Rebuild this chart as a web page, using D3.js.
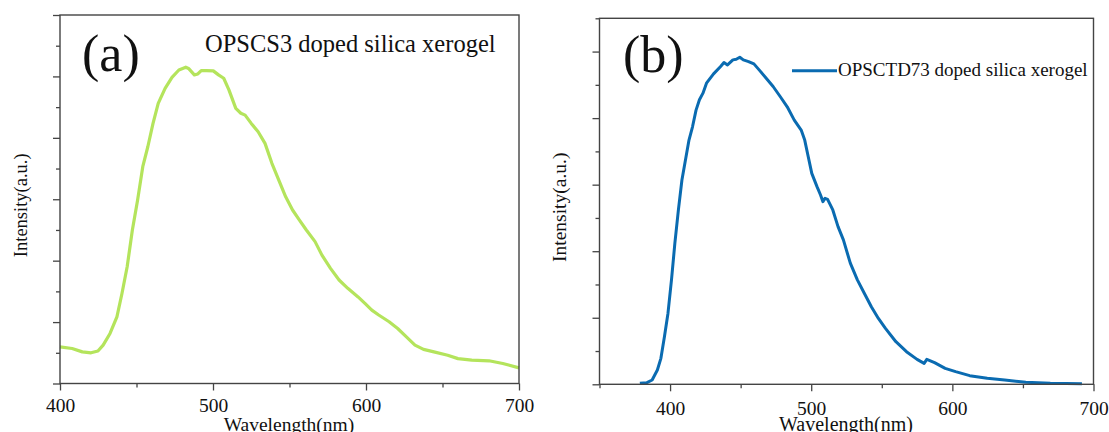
<!DOCTYPE html>
<html>
<head>
<meta charset="utf-8">
<script src="https://cdn.jsdelivr.net/npm/d3@7"></script>
<style>
  html, body { margin: 0; padding: 0; background: #fff; }
  svg { display: block; }
  text { font-family: "Liberation Serif", "Times New Roman", serif; fill: #111; }
</style>
</head>
<body>
<svg id="chart" width="1109" height="432"></svg>
<script>
// Photoluminescence spectra of two doped silica xerogels

// Panel (a): OPSCS3 doped silica xerogel
const wavelengthA = [400, 407.9, 414.6, 420.3, 424.8, 428.2, 432.7, 437.2, 440.5, 443.9, 447.3, 450.7,
  454.1, 457.4, 460.8, 464.2, 468.7, 473.2, 477.7, 482.2, 484, 487.8, 490.1, 492.3, 495.7, 500.2,
  503.6, 507, 510.4, 514.9, 518.2, 521, 525, 529.5, 534, 538.5, 543, 547.5, 552, 556.5, 561, 566.7,
  571.2, 576.8, 582.4, 588.1, 594.8, 599.3, 603.8, 608.3, 615.1, 620.7, 626.4, 632, 637.6, 644.4,
  653.4, 660.1, 669.1, 680.4, 689.4, 700];
const intensityA = [1.19, 1.14, 1.03, 1.0, 1.06, 1.25, 1.63, 2.17, 2.93, 3.80, 5.0, 5.97,
  7.06, 7.71, 8.47, 9.12, 9.61, 9.97, 10.21, 10.30, 10.26, 10.05, 10.08, 10.19, 10.19, 10.18,
  10.05, 9.94, 9.56, 8.96, 8.80, 8.74, 8.47, 8.20, 7.82, 7.17, 6.62, 6.08, 5.65, 5.32, 5.0, 4.62,
  4.18, 3.75, 3.37, 3.10, 2.82, 2.61, 2.39, 2.23, 2.01, 1.79, 1.52, 1.25, 1.11, 1.03,
  0.92, 0.81, 0.76, 0.74, 0.65, 0.51];

// Panel (b): OPSCTD73 doped silica xerogel
const wavelengthB = [378.6, 383.6, 387.3, 391, 393.5, 396, 398.5, 401, 403.4, 405.9, 408.4, 410.9,
  413.4, 415.9, 418.4, 420.8, 423.3, 425.8, 430.8, 435.8, 438.2, 440.7, 444.5, 446.9, 449.4, 451.9,
  455.6, 459.4, 463.1, 468.1, 473, 478, 483, 488, 492.9, 495.4, 497.9, 500.4, 504.1, 506.6, 508.3,
  509.8, 511.6, 515.3, 519, 522.8, 527.7, 532.7, 537.7, 542.6, 547.6, 552.6, 560, 567.5, 575, 580,
  581.9, 587.4, 594.9, 602.3, 612.3, 624.7, 637.1, 652, 669.4, 691.8];
const intensityB = [0.03, 0.05, 0.13, 0.43, 0.78, 1.43, 2.13, 3.14, 4.24, 5.24, 6.14, 6.74,
  7.34, 7.74, 8.24, 8.55, 8.75, 9.05, 9.33, 9.55, 9.67, 9.60, 9.75, 9.77, 9.83, 9.75,
  9.70, 9.63, 9.45, 9.20, 8.95, 8.65, 8.34, 7.94, 7.64, 7.34, 6.84, 6.34, 5.94, 5.69, 5.49,
  5.59, 5.56, 5.24, 4.74, 4.34, 3.64, 3.14, 2.73, 2.33, 1.98, 1.68, 1.28, 0.98, 0.75, 0.63,
  0.75, 0.65, 0.48, 0.38, 0.26, 0.18, 0.13, 0.06, 0.03, 0.02];

// Axis ticks
const xMajorA = [400, 500, 600, 700];
const xMinorA = [450, 550, 650];
const xMajorB = [400, 500, 600, 700];
const xMinorB = [350, 450, 550, 650];
const yMajorA = [0, 2, 4, 6, 8, 10, 12];
const yMinorA = [1, 3, 5, 7, 9, 11];
const yMajorB = [0, 2, 4, 6, 8, 10];
const yMinorB = [1, 3, 5, 7, 9, 11];

const svg = d3.select("#chart");

const panels = [
  {
    box: { left: 60, right: 519, top: 15, bottom: 383.5 },
    xDomain: [400, 700], yDomain: [0, 12],
    xs: wavelengthA, ys: intensityA,
    xMajor: xMajorA, xMinor: xMinorA, yMajor: yMajorA, yMinor: yMinorA,
    color: "#b4e45c", width: 3.2,
    tag: "(a)", tagX: 82, tagY: 71, tagSize: 52,
    yLabelX: 21, yLabelSize: 18.5,
    xLabelX: 289, xLabelSize: 19.5, labelPad: 8,
    title: "OPSCS3 doped silica xerogel", titleX: 205, titleY: 52, titleSize: 24.5,
    legend: false
  },
  {
    box: { left: 599.5, right: 1093.5, top: 18.3, bottom: 384.3 },
    xDomain: [350, 700], yDomain: [0, 11],
    xs: wavelengthB, ys: intensityB,
    xMajor: xMajorB, xMinor: xMinorB, yMajor: yMajorB, yMinor: yMinorB,
    color: "#0a6bb1", width: 3,
    tag: "(b)", tagX: 623, tagY: 72, tagSize: 52,
    yLabelX: 560, yLabelSize: 19.5,
    xLabelX: 846, xLabelSize: 20, labelPad: 10,
    title: "OPSCTD73 doped silica xerogel", titleX: 838, titleY: 76, titleSize: 19,
    legend: true, legendX1: 792, legendX2: 837, legendY: 70.7
  }
];

panels.forEach(p => {
  const b = p.box;
  const x = d3.scaleLinear().domain(p.xDomain).range([b.left, b.right]);
  const y = d3.scaleLinear().domain(p.yDomain).range([b.bottom, b.top]);
  const g = svg.append("g");

  // spectrum trace
  const pts = p.xs.map((v, i) => [v, p.ys[i]]);
  g.append("path")
    .datum(pts)
    .attr("fill", "none")
    .attr("stroke", p.color)
    .attr("stroke-width", p.width)
    .attr("stroke-linejoin", "round")
    .attr("d", d3.line().x(d => x(d[0])).y(d => y(d[1])));

  // bottom axis: major ticks with labels, minor ticks without
  const xMajAxis = d3.axisBottom(x).tickValues(p.xMajor).tickSize(7).tickSizeOuter(0)
    .tickPadding(p.labelPad).tickFormat(d3.format("d"));
  const xMinAxis = d3.axisBottom(x).tickValues(p.xMinor).tickSize(4).tickSizeOuter(0).tickFormat("");
  const yMajAxis = d3.axisLeft(y).tickValues(p.yMajor).tickSize(7).tickSizeOuter(0).tickFormat("");
  const yMinAxis = d3.axisLeft(y).tickValues(p.yMinor).tickSize(4).tickSizeOuter(0).tickFormat("");

  [xMajAxis, xMinAxis].forEach(ax => {
    const a = g.append("g").attr("transform", `translate(0,${b.bottom})`).call(ax);
    a.select(".domain").remove();
    a.selectAll("line").attr("stroke", "#444").attr("stroke-width", 1.3);
    a.selectAll("text").attr("font-size", 19.5).attr("font-family", "Liberation Serif").attr("fill", "#111");
  });
  [yMajAxis, yMinAxis].forEach(ax => {
    const a = g.append("g").attr("transform", `translate(${b.left},0)`).call(ax);
    a.select(".domain").remove();
    a.selectAll("line").attr("stroke", "#444").attr("stroke-width", 1.3);
  });

  // frame
  g.append("rect")
    .attr("x", b.left).attr("y", b.top)
    .attr("width", b.right - b.left).attr("height", b.bottom - b.top)
    .attr("fill", "none").attr("stroke", "#444").attr("stroke-width", 1.4);

  // axis titles
  g.append("text")
    .attr("x", p.xLabelX).attr("y", 431)
    .attr("text-anchor", "middle")
    .attr("font-size", p.xLabelSize)
    .text("Wavelength(nm)");
  g.append("text")
    .attr("transform", `translate(${p.yLabelX + 6},${(b.top + b.bottom) / 2 + 6}) rotate(-90)`)
    .attr("text-anchor", "middle")
    .attr("font-size", p.yLabelSize)
    .text("Intensity(a.u.)");

  // panel tag
  g.append("text")
    .attr("x", p.tagX).attr("y", p.tagY)
    .attr("font-size", p.tagSize)
    .text(p.tag);

  // sample name / legend
  if (p.legend) {
    g.append("line")
      .attr("x1", p.legendX1).attr("x2", p.legendX2)
      .attr("y1", p.legendY).attr("y2", p.legendY)
      .attr("stroke", p.color).attr("stroke-width", p.width);
  }
  g.append("text")
    .attr("x", p.titleX).attr("y", p.titleY)
    .attr("font-size", p.titleSize)
    .text(p.title);
});
</script>
</body>
</html>
